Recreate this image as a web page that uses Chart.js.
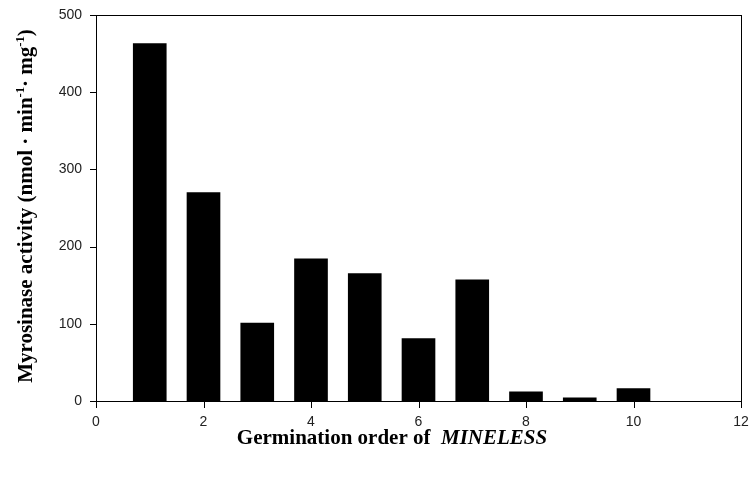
<!DOCTYPE html>
<html>
<head>
<meta charset="utf-8">
<script src="https://cdn.jsdelivr.net/npm/chart.js@4/dist/chart.umd.min.js"></script>
<style>
  html, body { margin: 0; padding: 0; background: #fff; }
  #wrap { width: 754px; height: 483px; }
</style>
</head>
<body>
<div id="wrap"><canvas id="chart" width="754" height="483"></canvas></div>
<script>
// germination order and myrosinase activity per seed
const orders = [1, 2, 3, 4, 5, 6, 7, 8, 9, 10];
const activity = [463, 270, 101, 184, 165, 81, 157, 12, 4, 16];
const xTickValues = [0, 2, 4, 6, 8, 10, 12];
const yTickValues = [0, 100, 200, 300, 400, 500];

const serif = "'Liberation Serif', 'Times New Roman', serif";
const sans = "'Liberation Sans', Arial, sans-serif";

// draws a run list [{text, sup, italic}] starting at x (baseline y)
function drawRuns(ctx, runs, size, x, y) {
    let cx = x;
    runs.forEach(r => {
        const s = r.sup ? size * 0.6 : size;
        ctx.font = (r.italic ? "italic " : "") + "bold " + s + "px " + serif;
        ctx.fillText(r.text, cx, r.sup ? y - size * 0.38 : y);
        cx += ctx.measureText(r.text).width;
    });
}

function runsWidth(ctx, runs, size) {
    let w = 0;
    runs.forEach(r => {
        const s = r.sup ? size * 0.6 : size;
        ctx.font = (r.italic ? "italic " : "") + "bold " + s + "px " + serif;
        w += ctx.measureText(r.text).width;
    });
    return w;
}

const yTitle = [
    { text: "Myrosinase activity (nmol · min" },
    { text: "-1", sup: true },
    { text: "· mg" },
    { text: "-1", sup: true },
    { text: ")" }
];
const xTitle = [
    { text: "Germination order of  " },
    { text: "MINELESS", italic: true }
];

const TICK = 6;

// keep the plot box fixed: no extra room for overhanging tick labels
function noPad(s) {
    s.paddingTop = 0; s.paddingBottom = 0;
    s.paddingLeft = 0; s.paddingRight = 0;
}

const framePlugin = {
    id: "frameAndTitles",
    afterDraw(chart) {
        const ctx = chart.ctx;
        const a = chart.chartArea;
        const xs = chart.scales.x, ys = chart.scales.y;
        ctx.save();
        ctx.strokeStyle = "#000";
        ctx.fillStyle = "#000";
        ctx.lineWidth = 1;
        const L = Math.round(a.left) + 0.5, T = Math.round(a.top) + 0.5;
        const R = Math.round(a.right) + 0.5, B = Math.round(a.bottom) + 0.5;
        ctx.strokeRect(L, T, R - L, B - T);

        // outward tick marks
        xTickValues.forEach(v => {
            const px = Math.round(xs.getPixelForValue(v));
            ctx.fillRect(px, Math.round(a.bottom), 1, TICK + 1);
        });
        yTickValues.forEach(v => {
            const py = Math.round(ys.getPixelForValue(v));
            ctx.fillRect(Math.round(a.left) - TICK, py, TICK + 1, 1);
        });

        ctx.textBaseline = "alphabetic";
        ctx.textAlign = "left";

        // x axis title
        const size = 21;
        const xw = runsWidth(ctx, xTitle, size);
        drawRuns(ctx, xTitle, size, 392 - xw / 2, 444);

        // y axis title, rotated
        const yw = runsWidth(ctx, yTitle, size);
        ctx.translate(32, 206);
        ctx.rotate(-Math.PI / 2);
        drawRuns(ctx, yTitle, size, -yw / 2, 0);
        ctx.restore();
    }
};

new Chart(document.getElementById("chart"), {
    type: "bar",
    data: {
        datasets: [{
            data: orders.map((o, i) => ({ x: o, y: activity[i] })),
            backgroundColor: "#000",
            borderWidth: 0,
            barThickness: 33
        }]
    },
    options: {
        responsive: false,
        animation: false,
        layout: { padding: { left: 0, top: 15, right: 13, bottom: 0 } },
        plugins: {
            legend: { display: false },
            tooltip: { enabled: false }
        },
        scales: {
            x: {
                type: "linear",
                min: 0,
                max: 12,
                offset: false,
                afterBuildTicks: s => { s.ticks = xTickValues.map(v => ({ value: v })); },
                afterFit: s => { s.height = 82; noPad(s); },
                grid: { display: false, drawTicks: false, offset: false },
                border: { display: true, color: "#000", width: 1 },
                ticks: { color: "#222", padding: 13, maxRotation: 0, font: { family: sans, size: 14 } }
            },
            y: {
                min: 0,
                max: 500,
                afterBuildTicks: s => { s.ticks = yTickValues.map(v => ({ value: v })); },
                afterFit: s => { s.width = 96; noPad(s); },
                grid: { display: false, drawTicks: false },
                border: { display: true, color: "#000", width: 1 },
                ticks: { color: "#222", padding: 14, font: { family: sans, size: 14 } }
            }
        }
    },
    plugins: [framePlugin]
});
</script>
</body>
</html>
